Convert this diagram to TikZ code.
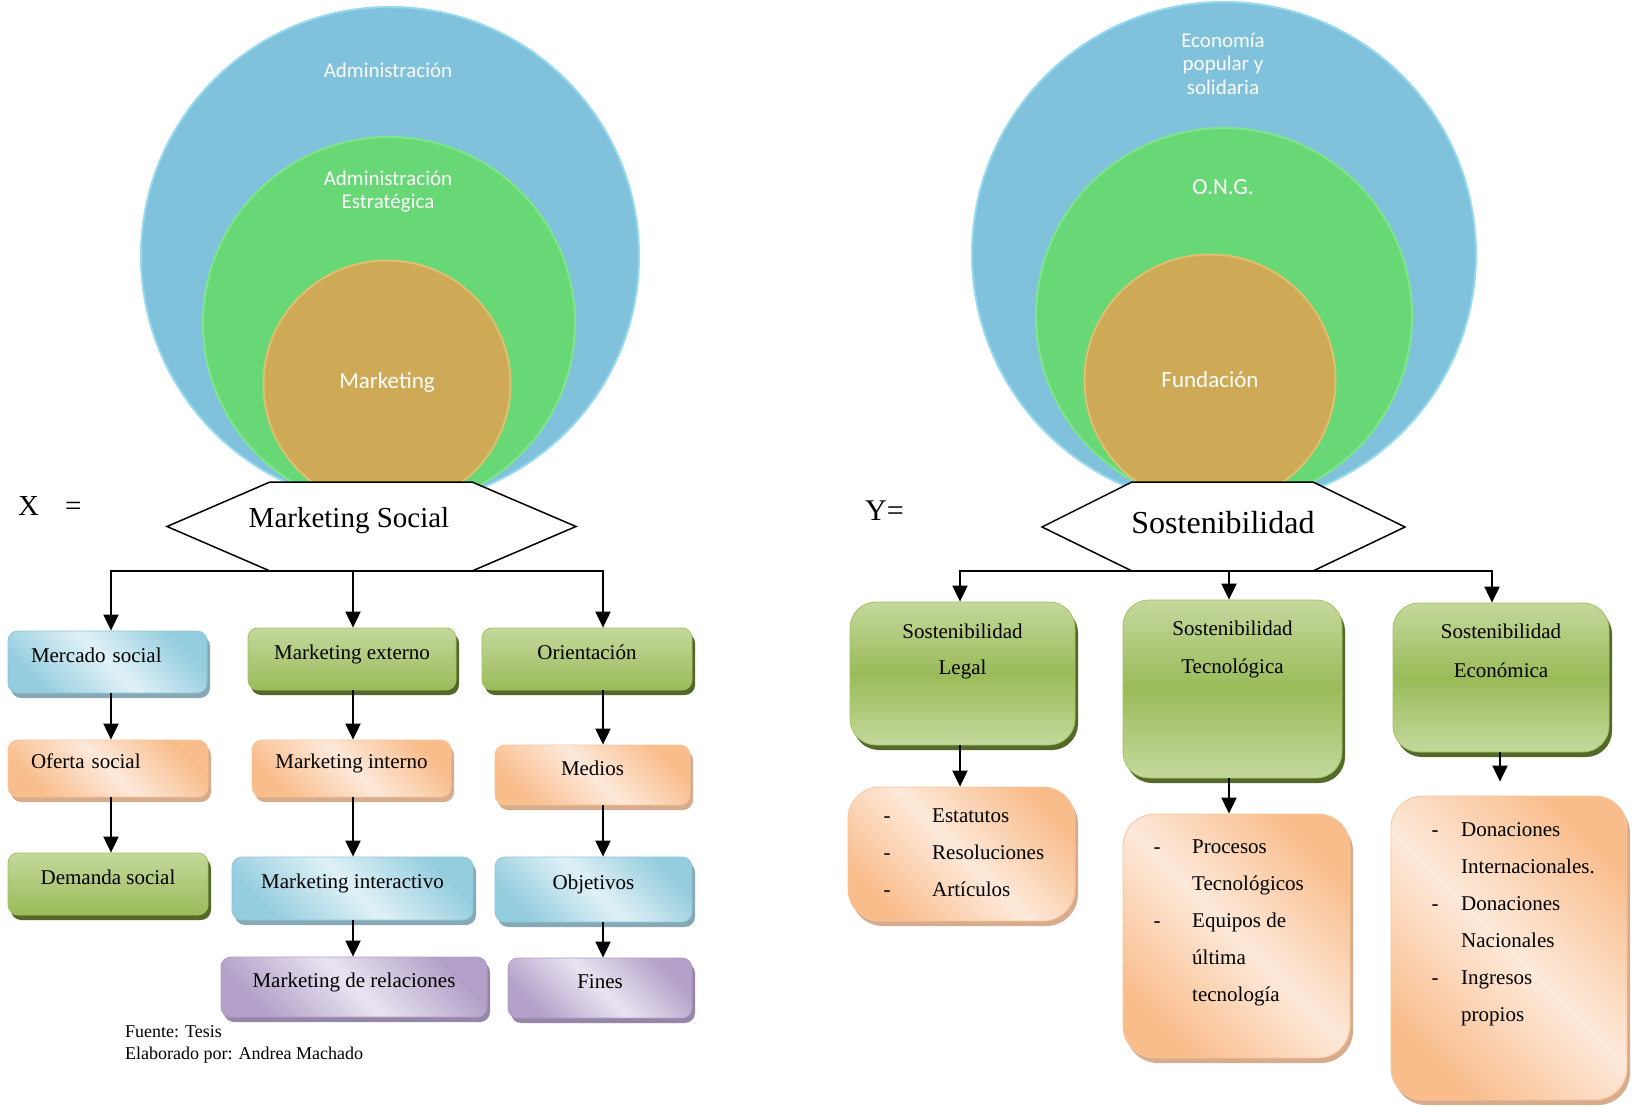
\documentclass[tikz,border=0pt]{standalone}
\usepackage{fontspec}
\setmainfont{Liberation Serif}
\newfontfamily\circfont{Carlito}
\usetikzlibrary{arrows.meta,shadows}
\definecolor{cblue}{RGB}{128,194,220}
\definecolor{cblueE}{RGB}{150,218,240}
\definecolor{cgreen}{RGB}{104,216,118}
\definecolor{cgreenE}{RGB}{128,230,140}
\definecolor{cgold}{RGB}{206,170,86}
\definecolor{cgoldE}{RGB}{222,192,112}
\definecolor{bxblueD}{RGB}{148,205,222}
\definecolor{bxblueL}{RGB}{224,241,247}
\definecolor{bxblueE}{RGB}{140,200,218}
\definecolor{bxblueS}{RGB}{135,168,180}
\definecolor{bxorgD}{RGB}{249,189,140}
\definecolor{bxorgL}{RGB}{253,233,218}
\definecolor{bxorgE}{RGB}{247,196,155}
\definecolor{bxorgS}{RGB}{214,172,140}
\definecolor{bxgrnL}{RGB}{196,216,156}
\definecolor{bxgrnD}{RGB}{155,187,89}
\definecolor{bxgrnE}{RGB}{160,195,95}
\definecolor{bxgrnS}{RGB}{84,104,42}
\definecolor{bxpurD}{RGB}{178,160,200}
\definecolor{bxpurL}{RGB}{233,228,241}
\definecolor{bxpurE}{RGB}{175,158,198}
\definecolor{bxpurS}{RGB}{150,134,168}
\tikzset{
  box/.style={rectangle, rounded corners=10pt, inner sep=0pt, text height=9pt, text depth=9pt,
    font=\fontsize{21}{25}\selectfont, line width=0.8pt},
  shd/.style={drop shadow={shadow xshift=3pt, shadow yshift=-5pt, fill=#1, opacity=1}},
  bluebox/.style={box, draw=bxblueE, left color=bxblueD, right color=bxblueD, middle color=bxblueL, shading angle=135, shd=bxblueS},
  orgbox/.style={box, draw=bxorgE, left color=bxorgD, right color=bxorgD, middle color=bxorgL, shading angle=135, shd=bxorgS},
  purbox/.style={box, draw=bxpurE, left color=bxpurD, right color=bxpurD, middle color=bxpurL, shading angle=135, shd=bxpurS},
  grnbox/.style={box, draw=bxgrnE, top color=bxgrnL, bottom color=bxgrnD, shd=bxgrnS},
  biggrn/.style={box, rounded corners=26pt, draw=bxgrnE, top color=bxgrnL, bottom color=bxgrnL, middle color=bxgrnD, shd=bxgrnS},
  bigorg/.style={orgbox, rounded corners=32pt},
  arr/.style={line width=2pt, -{Triangle[length=16pt,width=15pt]}},
  circ/.style={circle, inner sep=0pt, line width=2pt},
  ctext/.style={text=white, font=\circfont\fontsize{21}{23.5}\selectfont, align=center, inner sep=0pt},
  cbig/.style={font=\circfont\fontsize{23}{26}\selectfont},
  hexa/.style={draw=black, fill=white, line width=1.5pt, line join=miter},
  listt/.style={anchor=base west, inner sep=0pt},
  wh/.style 2 args={minimum width=#1, minimum height=#2},
}
\begin{document}
\begin{tikzpicture}[x=1pt,y=-1pt]
\path[use as bounding box, fill=white] (0,0) rectangle (1639,1107);

% ---- circles left
\node[circ, fill=cblue, draw=cblueE, minimum size=498pt] (cLb) at (390,256) {};
\node[circ, fill=cgreen, draw=cgreenE, minimum size=372pt] (cLg) at (389,323) {};
\node[circ, fill=cgold, draw=cgoldE, minimum size=247pt] (cLo) at (387,384) {};
\node[ctext] (tL1) at (388,70) {Administración};
\node[ctext] (tL2) at (388,191.5) {Administración\\Estratégica};
\node[ctext, cbig] (tL3) at (387,382) {Marketing};

% ---- circles right
\node[circ, fill=cblue, draw=cblueE, minimum size=504pt] (cRb) at (1224,254) {};
\node[circ, fill=cgreen, draw=cgreenE, minimum size=376pt] (cRg) at (1224,316) {};
\node[circ, fill=cgold, draw=cgoldE, minimum size=251pt] (cRo) at (1210,380) {};
\node[ctext] (tR1) at (1223,63.5) {Economía\\popular y\\solidaria};
\node[ctext, cbig] (tR2) at (1223,187) {O.N.G.};
\node[ctext, cbig] (tR3) at (1210,380) {Fundación};

% ---- hexagons
\draw[hexa] (270,482) -- (472,482) -- (576,526.5) -- (472,571) -- (270,571) -- (167,526.5) -- cycle;
\node[font=\fontsize{29}{34}\selectfont] (hxL) at (349,521) {Marketing Social};
\draw[hexa] (1132,482) -- (1313,482) -- (1405,527) -- (1313,571) -- (1132,571) -- (1042,527) -- cycle;
\node[font=\fontsize{32}{38}\selectfont] (hxR) at (1223,523) {Sostenibilidad};

\node[anchor=base west, inner sep=0pt, font=\fontsize{29}{34}\selectfont] (xlab) at (18,515) {X\hspace{26pt}=};
\node[anchor=base west, inner sep=0pt, font=\fontsize{30}{34}\selectfont] (ylab) at (865,520) {Y=};

\coordinate (jL) at (353,571);
\coordinate (jR) at (1229,571);
\coordinate (cA) at (111,0);
\coordinate (cB) at (353,0);
\coordinate (cC) at (603,0);
\coordinate (cD) at (960,0);
\coordinate (cE) at (1229,0);
\coordinate (cF) at (1492,0);
\coordinate (cG) at (1500,0);

% ---- left boxes
\node[bluebox, wh={199pt}{62pt}, inner xsep=23pt, text width=153pt, align=left] (b1) at (107.5,662) {Mercado social};
\node[orgbox, wh={200pt}{57pt}, inner xsep=23pt, text width=154pt, align=left] (b2) at (108,768.5) {Oferta social};
\node[grnbox, wh={200pt}{62pt}] (b3) at (108,884) {Demanda social};

\node[grnbox, wh={208pt}{62pt}] (b4) at (352,659) {Marketing externo};
\node[orgbox, wh={199pt}{57pt}] (b5) at (351.5,768.5) {Marketing interno};
\node[bluebox, wh={241pt}{63pt}] (b6) at (352.5,888.5) {Marketing interactivo};
\node[purbox, wh={266pt}{60pt}] (b7) at (354,987) {Marketing de relaciones};

\node[grnbox, wh={210pt}{62pt}] (b8) at (587,659) {Orientación};
\node[orgbox, wh={195pt}{60pt}] (b9) at (592.5,775) {Medios};
\node[bluebox, wh={197pt}{65pt}] (b10) at (593.5,889.5) {Objetivos};
\node[purbox, wh={184pt}{60pt}] (b11) at (600,988) {Fines};

% ---- right boxes
\node[biggrn, wh={225pt}{143pt}] (b12) at (962.5,673.5) {};
\node[biggrn, wh={219pt}{178pt}] (b13) at (1232.5,689) {};
\node[biggrn, wh={216pt}{149pt}] (b14) at (1501,677.5) {};
\node[bigorg, wh={227pt}{134pt}] (b15) at (961.5,854) {};
\node[bigorg, wh={227pt}{244pt}] (b16) at (1236.5,936) {};
\node[bigorg, wh={236pt}{304pt}] (b17) at (1509,948) {};

\node[anchor=base, inner sep=0pt, font=\fontsize{21}{36}\selectfont] (t12) at (962.5,638) {\begin{tabular}[t]{@{}c@{}}Sostenibilidad\\Legal\end{tabular}};
\node[anchor=base, inner sep=0pt, font=\fontsize{21}{38}\selectfont] (t13) at (1232.5,635) {\begin{tabular}[t]{@{}c@{}}Sostenibilidad\\Tecnológica\end{tabular}};
\node[anchor=base, inner sep=0pt, font=\fontsize{21}{39}\selectfont] (t14) at (1501,638) {\begin{tabular}[t]{@{}c@{}}Sostenibilidad\\Económica\end{tabular}};

\node[listt, font=\fontsize{21}{37}\selectfont] (t15) at (883.5,822) {\begin{tabular}[t]{@{}p{48.5pt}@{}l@{}}-&Estatutos\\-&Resoluciones\\-&Artículos\end{tabular}};
\node[listt, font=\fontsize{21}{37}\selectfont] (t16) at (1153.5,853) {\begin{tabular}[t]{@{}p{38.5pt}@{}l@{}}-&Procesos\\&Tecnológicos\\-&Equipos de\\&última\\&tecnología\end{tabular}};
\node[listt, font=\fontsize{21}{37}\selectfont] (t17) at (1431.5,836) {\begin{tabular}[t]{@{}p{29.5pt}@{}l@{}}-&Donaciones\\&Internacionales.\\-&Donaciones\\&Nacionales\\-&Ingresos\\&propios\end{tabular}};

% ---- footnote
\node[listt, font=\fontsize{18}{22}\selectfont] (f1) at (125,1037) {Fuente: Tesis};
\node[listt, font=\fontsize{18}{22}\selectfont] (f2) at (125,1059) {Elaborado por: Andrea Machado};

% ---- connectors left
\draw[arr] (jL) -| (b1.north -| cA);
\draw[arr] (jL) -- (b4.north -| cB);
\draw[arr] (jL) -| (b8.north -| cC);
\draw[arr] (b1.south -| cA) -- (b2.north -| cA);
\draw[arr] (b2.south -| cA) -- (b3.north -| cA);
\draw[arr] (b4.south -| cB) -- (b5.north -| cB);
\draw[arr] (b5.south -| cB) -- (b6.north -| cB);
\draw[arr] (b6.south -| cB) -- (b7.north -| cB);
\draw[arr] (b8.south -| cC) -- (b9.north -| cC);
\draw[arr] (b9.south -| cC) -- (b10.north -| cC);
\draw[arr] (b10.south -| cC) -- (b11.north -| cC);

% ---- connectors right
\draw[arr] (jR) -| (b12.north -| cD);
\draw[arr] (jR) -- (b13.north -| cE);
\draw[arr] (jR) -| (b14.north -| cF);
\draw[arr] (b12.south -| cD) -- (b15.north -| cD);
\draw[arr] (b13.south -| cE) -- (b16.north -| cE);
\draw[arr, shorten >=14pt] (b14.south -| cG) -- (b17.north -| cG);
\end{tikzpicture}
\end{document}
